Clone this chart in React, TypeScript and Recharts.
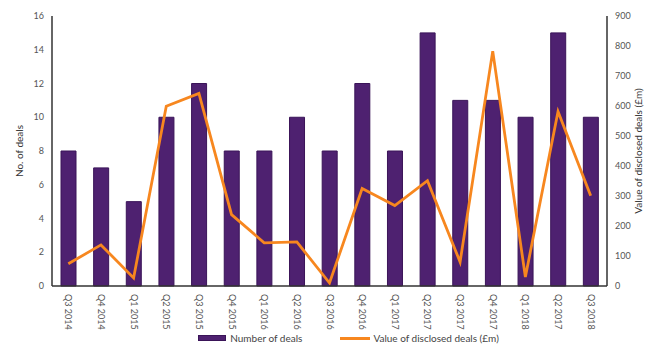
import React from "react";
import {
  ComposedChart,
  Bar,
  Line,
  XAxis,
  YAxis,
  Legend,
} from "recharts";

const quarters = [
  "Q3 2014", "Q4 2014", "Q1 2015", "Q2 2015", "Q3 2015", "Q4 2015",
  "Q1 2016", "Q2 2016", "Q3 2016", "Q4 2016", "Q1 2017", "Q2 2017",
  "Q3 2017", "Q4 2017", "Q1 2018", "Q2 2017", "Q3 2018",
];
const dealCounts = [8, 7, 5, 10, 12, 8, 8, 10, 8, 12, 8, 15, 11, 11, 10, 15, 10];
const dealValues = [74, 137, 27, 599, 642, 238, 144, 147, 10, 325, 268, 351, 80, 783, 30, 582, 301];

const leftTicks = [0, 2, 4, 6, 8, 10, 12, 14, 16];
const rightTicks = [0, 100, 200, 300, 400, 500, 600, 700, 800, 900];

const data = quarters.map((q, i) => ({
  quarter: q,
  deals: dealCounts[i],
  value: dealValues[i],
}));

const PURPLE = "#4e2170";
const ORANGE = "#f7871f";
const FONT = "Lato, 'Open Sans', sans-serif";

const QuarterTick = (props: any) => {
  const { x, y, payload } = props;
  return (
    <text
      x={x}
      y={y}
      transform={`rotate(90, ${x}, ${y})`}
      fontSize={9}
      fill="#555"
      fontFamily={FONT}
      dy={3}
      textAnchor="start"
    >
      {payload.value}
    </text>
  );
};

const LegendContent = () => (
  <div
    style={{
      display: "flex",
      justifyContent: "center",
      alignItems: "center",
      fontFamily: FONT,
      fontSize: 10,
      color: "#444",
      paddingLeft: 30,
    }}
  >
    <span style={{ display: "inline-block", width: 26, height: 4, background: PURPLE, border: "1px solid #3a1458", marginRight: 4 }} />
    <span style={{ marginRight: 38 }}>Number of deals</span>
    <span style={{ display: "inline-block", width: 30, height: 3, background: ORANGE, marginRight: 3 }} />
    <span>Value of disclosed deals (£m)</span>
  </div>
);

export default function App() {
  return (
    <div style={{ position: "absolute", left: 0, top: 0, width: 667, height: 364, background: "#fff" }}>
      <ComposedChart
        width={667}
        height={364}
        data={data}
        margin={{ top: 16, right: 0, bottom: 12, left: 0 }}
      >
        <XAxis
          dataKey="quarter"
          xAxisId={0}
          interval={0}
          height={46}
          allowDuplicatedCategory={true}
          tick={<QuarterTick />}
          tickLine={false}
          axisLine={{ stroke: "#333", strokeWidth: 1.5 }}
        />
        <YAxis
          yAxisId="left"
          domain={[0, 16]}
          ticks={leftTicks}
          width={52}
          tickLine={false}
          axisLine={{ stroke: "#333", strokeWidth: 1.5 }}
          tick={{ fontSize: 9, fill: "#555", fontFamily: FONT }}
          label={{
            value: "No. of deals",
            angle: -90,
            position: "insideLeft",
            offset: 19,
            style: { fontSize: 10, fill: "#333", fontFamily: FONT, textAnchor: "middle" },
          }}
        />
        <YAxis
          yAxisId="right"
          orientation="right"
          domain={[0, 900]}
          ticks={rightTicks}
          width={60}
          tickLine={false}
          axisLine={{ stroke: "#333", strokeWidth: 1.5 }}
          tick={{ fontSize: 9, fill: "#555", fontFamily: FONT }}
          label={{
            value: "Value of disclosed deals (£m)",
            angle: -90,
            position: "insideRight",
            offset: 29,
            style: { fontSize: 10, fill: "#333", fontFamily: FONT, textAnchor: "middle" },
          }}
        />
        <Legend verticalAlign="bottom" height={20} content={<LegendContent />} />
        <Bar
          xAxisId={0}
          yAxisId="left"
          dataKey="deals"
          barSize={15}
          fill={PURPLE}
          stroke="#3a1458"
          strokeWidth={1}
          isAnimationActive={false}
        />
        <Line
          xAxisId={0}
          yAxisId="right"
          type="linear"
          dataKey="value"
          stroke={ORANGE}
          strokeWidth={2.8}
          dot={false}
          isAnimationActive={false}
        />
      </ComposedChart>
    </div>
  );
}
